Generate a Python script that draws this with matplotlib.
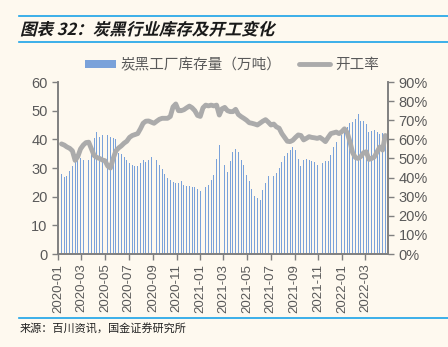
import numpy as np
import pandas as pd
import matplotlib
matplotlib.use("Agg")
import matplotlib.pyplot as plt
import matplotlib.dates as mdates
from matplotlib.ticker import PercentFormatter
from matplotlib.textpath import TextPath
from matplotlib.patches import PathPatch
from matplotlib.font_manager import FontProperties
from matplotlib.transforms import Affine2D, IdentityTransform

plt.rcParams['font.family'] = ['Liberation Sans', 'Noto Sans CJK SC', 'DejaVu Sans']

# weekly data, 2020-01-10 .. 2022-04-22
dates = pd.date_range("2020-01-10", periods=120, freq="7D")

# carbon black plant inventory (10k t)
stock = [28.0, 26.9, 27.3, 28.8, 30.8, 32.7, 33.3, 33.5, 32.9, 33.5, 32.7, 35.0, 40.5,
         42.5, 40.7, 41.5, 41.7, 41.5, 40.9, 40.6, 40.0, 35.1, 35.0, 33.7, 32.8, 31.9,
         31.0, 30.7, 30.7, 31.6, 32.8, 32.2, 32.8, 33.7, 35.1, 32.8, 31.0, 29.5, 27.9,
         26.5, 25.7, 25.0, 24.8, 24.8, 25.5, 24.0, 23.6, 23.6, 23.4, 23.3, 22.8, 22.1,
         22.7, 23.4, 24.2, 25.9, 27.7, 33.1, 38.1,
         34.3, 31.2, 28.5, 32.3, 35.5, 36.6, 35.6, 32.9, 31.2, 27.7, 25.3, 22.7, 20.3,
         19.5, 19.0, 22.2, 24.8, 27.3, 28.0, 27.3, 28.3, 30.0, 32.0, 34.3, 35.2, 36.4,
         37.3, 36.4, 33.1,
         30.8, 32.7, 33.1, 32.9, 32.3, 32.0, 31.2, 30.8, 31.7, 32.3,
         32.3, 34.7, 37.2, 39.2, 40.7, 41.5, 43.3, 44.4, 45.6, 46.2, 47.0, 48.8, 46.4,
         46.4, 45.3, 42.7, 43.0, 43.4, 42.7, 41.9, 42.2, 41.6]

# operating rate (%)
rate = [57.6, 57.0, 56.0, 55.3, 54.0, 49.0, 51.0, 55.0, 57.0, 58.3, 58.5, 55.0, 51.5,
        50.5, 50.0, 49.2, 48.8, 46.0, 45.0, 50.0, 54.0, 55.5, 56.6, 58.0, 59.0, 61.0,
        62.0, 62.5, 63.0, 65.5, 68.4, 69.5, 69.6, 69.0, 68.4, 69.5, 70.5, 71.0, 71.0,
        71.0, 72.0, 77.0, 78.5, 75.0, 75.0, 75.5, 76.5, 77.4, 76.5, 75.0, 72.5, 72.0,
        76.5, 77.9, 77.5, 77.9, 77.5, 77.9, 72.7, 76.0, 76.7, 75.0, 74.5, 74.5, 75.7,
        73.0, 71.9, 71.0, 70.0, 68.7, 68.4, 68.0, 67.5, 68.5, 69.5, 70.3, 69.0, 67.5,
        68.0, 66.5, 65.8, 63.0, 61.0, 59.0, 58.8, 59.5, 61.0, 62.3, 62.0, 59.7, 60.5,
        61.4, 61.0, 60.8, 60.5, 61.0, 60.0, 58.8, 61.0, 63.0, 63.4, 63.8, 63.0, 64.0,
        65.5, 63.5, 58.8, 53.0, 50.5, 50.0, 51.0, 53.0, 53.5, 49.5, 50.0, 50.8, 53.5,
        56.0, 54.4, 62.0]

bg = '#FEF9EF'
blue_rule = '#1AA3E8'
txt = '#595959'

fig = plt.figure(figsize=(4.48, 3.47), dpi=100)
fig.patch.set_facecolor(bg)

ax = fig.add_axes([58 / 448, 93 / 347, 330 / 448, 172 / 347])
ax.set_facecolor(bg)
ax.bar(dates, stock, width=2.4, color='#7AA2DA', label='炭黑工厂库存量（万吨）', zorder=2)
ax.set_ylim(0, 60)
ax.set_yticks(range(0, 61, 10))
ax.set_xlim(pd.Timestamp("2020-01-01"), pd.Timestamp("2022-04-29"))
ax.xaxis.set_major_locator(mdates.MonthLocator(bymonth=[1, 3, 5, 7, 9, 11]))
ax.xaxis.set_major_formatter(mdates.DateFormatter('%Y-%m'))
for lab in ax.get_xticklabels():
    lab.set_rotation(90)

ax2 = ax.twinx()
ax2.plot(dates, np.array(rate) / 100, color='#ABABAB', lw=3.5, label='开工率',
         solid_capstyle='round', solid_joinstyle='round')
ax2.set_ylim(0, 0.9)
ax2.set_yticks(np.arange(0, 0.91, 0.1))
ax2.yaxis.set_major_formatter(PercentFormatter(1.0, decimals=0))

for a in (ax, ax2):
    a.spines['top'].set_visible(False)
    for s in ('left', 'right', 'bottom'):
        a.spines[s].set_color('#808080')
        a.spines[s].set_linewidth(1.2)
    a.tick_params(colors='#808080', labelcolor=txt, labelsize=10.5, length=4, width=1)
ax.tick_params(axis='x', labelsize=9.5, pad=3)

h1, l1 = ax.get_legend_handles_labels()
h2, l2 = ax2.get_legend_handles_labels()
fig.legend(h1 + h2, l1 + l2, loc='center', bbox_to_anchor=(232 / 448, 1 - 65 / 347),
           ncol=2, frameon=False, handlelength=2.1, handleheight=0.55,
           columnspacing=1.2, handletextpad=0.35, labelcolor=txt,
           prop={'family': ['Noto Sans CJK SC'], 'size': 10.5})

# header / footer rules
for yy in (16, 42, 318):
    fig.add_artist(plt.Line2D([19 / 448, 1], [1 - yy / 347] * 2, color=blue_rule, lw=1.2))

# italic bold title via skewed text path
fp = FontProperties(family=['Noto Sans CJK SC'], weight='bold')
tp = TextPath((0, 0), "图表 32：炭黑行业库存及开工变化", size=16.5, prop=fp)
tr = Affine2D().skew_deg(14, 0).translate(20, 347 - 35) + IdentityTransform()
fig.add_artist(PathPatch(tp, transform=tr, color='#1a1a1a', lw=0))

fig.text(20 / 448, 1 - 329 / 347, "来源：百川资讯，国金证券研究所", fontsize=8,
         family=['Noto Sans CJK SC'], color='#222222', va='center')

fig.savefig("out.png", dpi=100, facecolor=bg)
